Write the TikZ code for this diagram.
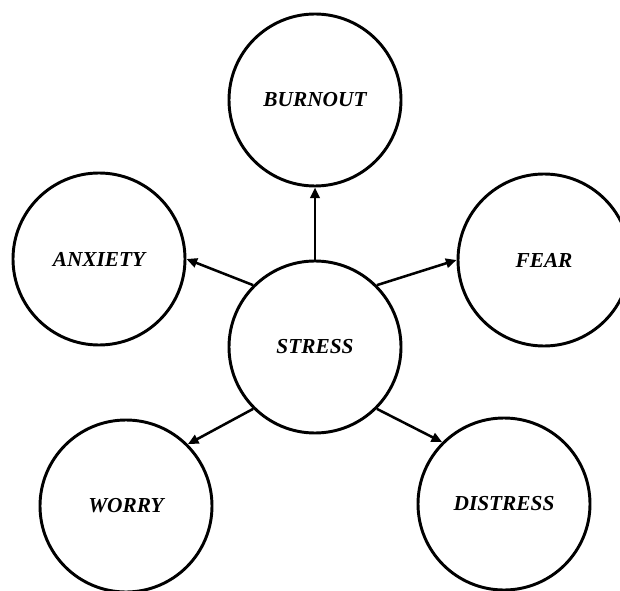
\documentclass[tikz,border=0pt]{standalone}
\usepackage{fontspec}
\setmainfont{Liberation Serif}
\usetikzlibrary{arrows.meta}
\begin{document}
\begin{tikzpicture}[x=0.75pt,y=-0.75pt,
  bubble/.style={circle,draw,line width=2.2pt,minimum size=129pt,inner sep=0pt,
    font=\fontsize{16}{19}\selectfont\bfseries\itshape},
  link/.style={line width=1.9pt,-{Triangle[length=8pt,width=7pt]}}]
\clip (0,0) rectangle (620,591);
\useasboundingbox (0,0) rectangle (620,591);
\node[bubble] (burnout) at (315,100) {BURNOUT};
\node[bubble] (anxiety) at (99,259) {ANXIETY};
\node[bubble] (fear) at (544,260) {FEAR};
\node[bubble] (stress) at (315,347) {STRESS};
\node[bubble] (worry) at (126,506) {WORRY};
\node[bubble] (distress) at (504,504) {DISTRESS};
\draw[link] (stress.north) -- (burnout.south);
\draw[link] (stress.north west) -- (anxiety.east);
\draw[link] (stress.north east) -- (fear.west);
\draw[link] (stress.south west) -- (worry.north east);
\draw[link] (stress.south east) -- (distress.north west);
\end{tikzpicture}
\end{document}
